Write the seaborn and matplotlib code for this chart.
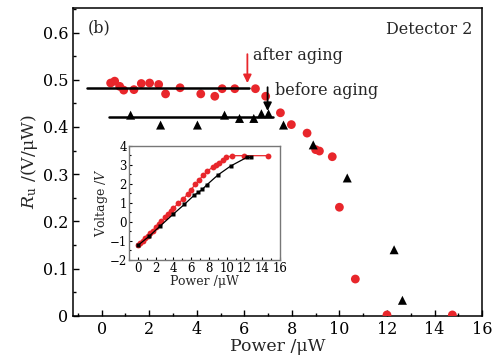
import numpy as np
import pandas as pd
import matplotlib.pyplot as plt
import seaborn as sns
from matplotlib.ticker import MultipleLocator

sns.set_theme(style="ticks")
plt.rcParams['font.family'] = ['DejaVu Serif']
plt.rcParams['mathtext.fontset'] = 'dejavuserif'
plt.rcParams['xtick.direction'] = 'in'
plt.rcParams['ytick.direction'] = 'in'

# responsivity after aging (red circles)
after_p = [0.38, 0.55, 0.76, 0.93, 1.36, 1.67, 2.02, 2.4, 2.69, 3.3, 4.17, 4.76, 5.07, 5.6,
           6.47, 6.9, 7.52, 7.98, 8.64, 9.0, 9.16, 9.7, 10.0, 10.67, 12.0, 14.75]
after_r = [0.493, 0.497, 0.486, 0.478, 0.479, 0.492, 0.493, 0.49, 0.47, 0.483, 0.47, 0.465, 0.481, 0.481,
           0.481, 0.465, 0.43, 0.405, 0.387, 0.352, 0.349, 0.337, 0.23, 0.078, 0.002, 0.002]

# responsivity before aging (black triangles)
before_p = [1.22, 2.48, 4.03, 5.17, 5.8, 6.4, 6.72, 7.02, 7.65, 8.9, 10.33, 12.3, 12.65]
before_r = [0.425, 0.404, 0.404, 0.425, 0.418, 0.418, 0.428, 0.428, 0.404, 0.362, 0.292, 0.14, 0.033]

# fitted plateau levels
after_level = 0.483
before_level = 0.421

# inset: voltage vs power
inset_after_p = [0, 0.26, 0.52, 0.82, 1.12, 1.38, 1.69, 2.0, 2.32, 2.62, 3.07, 3.4, 3.71, 4.0, 4.53,
                 5.1, 5.6, 5.97, 6.44, 6.89, 7.37, 7.82, 8.49, 8.75, 9.15, 9.53, 9.97, 10.6, 11.9, 14.7]
inset_after_v = [-1.23, -1.12, -1.0, -0.86, -0.74, -0.6, -0.46, -0.28, -0.1, 0.05, 0.25, 0.43, 0.6, 0.72, 0.98,
                 1.21, 1.46, 1.68, 1.98, 2.21, 2.47, 2.68, 2.91, 3.0, 3.12, 3.26, 3.4, 3.49, 3.49, 3.49]
inset_before_p = [0, 1.27, 2.51, 4.0, 5.24, 6.36, 6.81, 7.26, 7.75, 9.0, 10.46, 12.26, 12.7]
inset_before_v = [-1.23, -0.75, -0.21, 0.42, 0.93, 1.42, 1.56, 1.72, 1.95, 2.47, 2.95, 3.4, 3.4]

red = '#e8262b'

fig = plt.figure(figsize=(4.97, 3.61), dpi=100)
ax = fig.add_axes([0.147, 0.125, 0.823, 0.853])

ax.plot([-0.63, 6.2], [after_level, after_level], color='black', lw=1.8, zorder=4)
ax.plot([0.3, 7.2], [before_level, before_level], color='black', lw=1.8, zorder=4)
sns.scatterplot(x=after_p, y=after_r, ax=ax, color=red, s=40, marker='o', edgecolor='none', zorder=3)
sns.scatterplot(x=before_p, y=before_r, ax=ax, color='black', s=42, marker='^', edgecolor='none', zorder=3)

ax.annotate('', xy=(6.13, 0.487), xytext=(6.13, 0.56),
            arrowprops=dict(arrowstyle='-|>', color=red, lw=1.3, mutation_scale=12))
ax.annotate('', xy=(6.98, 0.428), xytext=(6.98, 0.49),
            arrowprops=dict(arrowstyle='-|>', color='black', lw=1.3, mutation_scale=12))
ax.text(6.35, 0.552, 'after aging', fontsize=11.5, va='center', ha='left')
ax.text(7.3, 0.478, 'before aging', fontsize=11.5, va='center', ha='left')
ax.text(15.6, 0.607, 'Detector 2', fontsize=11.5, va='center', ha='right')
ax.text(-0.6, 0.61, '(b)', fontsize=11.5, va='center', ha='left')

ax.set_xlim(-1.2, 16)
ax.set_ylim(0, 0.652)
ax.xaxis.set_major_locator(MultipleLocator(2))
ax.xaxis.set_minor_locator(MultipleLocator(1))
ax.yaxis.set_major_locator(MultipleLocator(0.1))
ax.yaxis.set_minor_locator(MultipleLocator(0.05))
ax.set_yticks([0, 0.1, 0.2, 0.3, 0.4, 0.5, 0.6])
ax.set_yticklabels(['0', '0.1', '0.2', '0.3', '0.4', '0.5', '0.6'])
ax.tick_params(which='both', direction='in', labelsize=11.5, colors='black')
ax.tick_params(which='major', length=4, width=1)
ax.tick_params(which='minor', length=2.5, width=1)
ax.set_xlabel('Power /μW', fontsize=12.5, labelpad=0)
ax.set_ylabel(r'$R_{\mathrm{u}}$ /(V/μW)', fontsize=12.5, labelpad=2)
for s in ax.spines.values():
    s.set_color('black')
    s.set_linewidth(1.1)

# inset
ins = fig.add_axes([0.2596, 0.2798, 0.3038, 0.3158])
sns.lineplot(x=inset_after_p, y=inset_after_v, ax=ins, color=red, lw=0.9, marker='o',
             markersize=4.2, markeredgecolor='none', sort=False)
sns.lineplot(x=inset_before_p, y=inset_before_v, ax=ins, color='black', lw=0.9, marker='s',
             markersize=3.5, markeredgecolor='none', sort=False)
ins.set_xlim(-1, 16)
ins.set_ylim(-2, 4)
ins.xaxis.set_major_locator(MultipleLocator(2))
ins.xaxis.set_minor_locator(MultipleLocator(1))
ins.yaxis.set_major_locator(MultipleLocator(1))
ins.yaxis.set_minor_locator(MultipleLocator(0.5))
ins.set_yticks([-2, -1, 0, 1, 2, 3, 4])
ins.set_yticklabels(['−2', '−1', '0', '1', '2', '3', '4'])
ins.tick_params(which='both', direction='in', labelsize=8.5, pad=1.5, colors='black')
ins.tick_params(which='major', length=2.5, width=0.8)
ins.tick_params(which='minor', length=1.5, width=0.8)
ins.set_xlabel('Power /μW', fontsize=9, labelpad=0)
ins.set_ylabel(r'Voltage /$V$', fontsize=9, labelpad=0)
for s in ins.spines.values():
    s.set_color('#777777')
    s.set_linewidth(1)

fig.savefig('out.png', dpi=100)
